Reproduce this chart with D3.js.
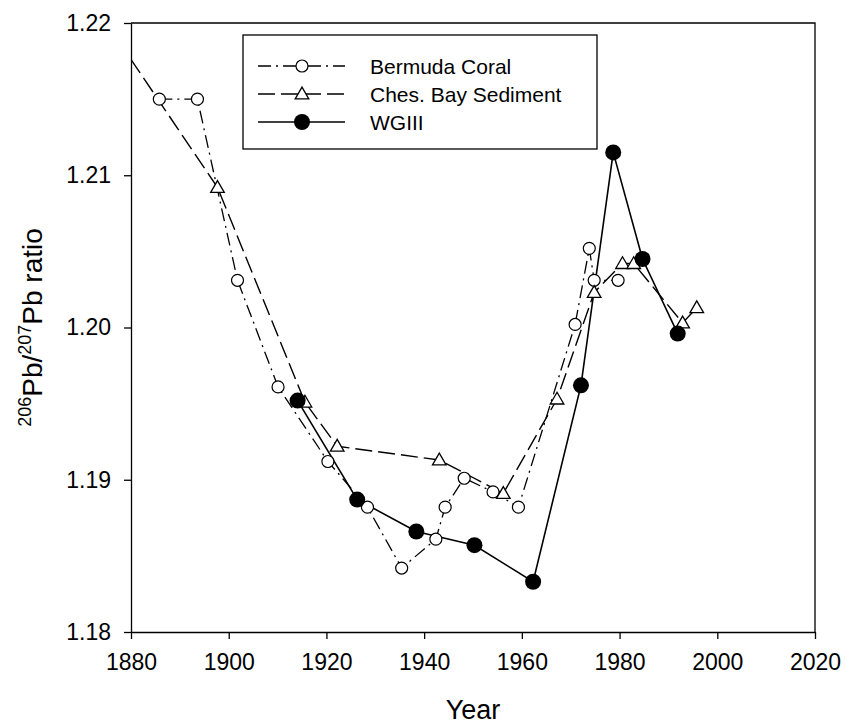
<!DOCTYPE html>
<html>
<head>
<meta charset="utf-8">
<script src="https://cdn.jsdelivr.net/npm/d3@7"></script>
<style>
  body { margin: 0; background: #fff; }
  svg { font-family: "Liberation Sans", Arial, sans-serif; }
</style>
</head>
<body>
<div id="chart"></div>
<script>
// Bermuda coral (open circles, dash-dot line)
var coralYears  = [1885.8, 1893.6, 1901.8, 1910.1, 1920.3, 1928.4, 1935.4, 1942.4, 1944.3, 1948.2, 1954.1, 1959.3, 1970.9, 1973.8, 1974.8, 1979.7];
var coralRatios = [1.2150, 1.2150, 1.2031, 1.1961, 1.1912, 1.1882, 1.1842, 1.1861, 1.1882, 1.1901, 1.1892, 1.1882, 1.2002, 1.2052, 1.2031, 1.2031];

// Chesapeake Bay sediment (open triangles, long dashes); first point lies outside the axes
var chesYears  = [1872.0, 1897.7, 1915.6, 1922.2, 1943.1, 1956.2, 1967.2, 1974.8, 1980.6, 1982.9, 1992.9, 1995.8];
var chesRatios = [1.2214, 1.2092, 1.1951, 1.1922, 1.1913, 1.1891, 1.1953, 1.2023, 1.2042, 1.2042, 1.2003, 1.2013];

// WGIII (filled circles, solid line)
var wgYears  = [1914.1, 1926.3, 1938.4, 1950.3, 1962.3, 1972.1, 1978.7, 1984.7, 1991.9];
var wgRatios = [1.1952, 1.1887, 1.1866, 1.1857, 1.1833, 1.1962, 1.2115, 1.2045, 1.1996];

var xTicks = [1880, 1900, 1920, 1940, 1960, 1980, 2000, 2020];
var yTicks = [1.18, 1.19, 1.20, 1.21, 1.22];
var seriesNames = ["Bermuda Coral", "Ches. Bay Sediment", "WGIII"];

var w = 846, h = 725;
var pLeft = 131, pRight = 815, pTop = 23, pBottom = 632;

var svg = d3.select("#chart").append("svg")
    .attr("width", w)
    .attr("height", h);

var x = d3.scaleLinear().domain([1880, 2020]).range([pLeft, pRight]);
var y = d3.scaleLinear().domain([1.18, 1.22]).range([pBottom, pTop]);

function zip(xs, ys) {
    return xs.map(function(v, i) { return { year: v, ratio: ys[i] }; });
}
var coral = zip(coralYears, coralRatios);
var ches = zip(chesYears, chesRatios);
var wg = zip(wgYears, wgRatios);

svg.append("clipPath").attr("id", "plot")
  .append("rect")
    .attr("x", pLeft).attr("y", pTop)
    .attr("width", pRight - pLeft).attr("height", pBottom - pTop);

// frame (top and right)
svg.append("path")
    .attr("d", "M" + pLeft + "," + pTop + "H" + pRight + "V" + pBottom)
    .attr("fill", "none")
    .attr("stroke", "#000")
    .attr("stroke-width", 1.3);

// axes
var xAxis = svg.append("g")
    .attr("transform", "translate(0," + pBottom + ")")
    .call(d3.axisBottom(x).tickValues(xTicks).tickFormat(d3.format("d")).tickSize(7).tickSizeOuter(0).tickPadding(15));
var yAxis = svg.append("g")
    .attr("transform", "translate(" + pLeft + ",0)")
    .call(d3.axisLeft(y).tickValues(yTicks).tickFormat(d3.format(".2f")).tickSize(7).tickSizeOuter(0).tickPadding(13));

[xAxis, yAxis].forEach(function(a) {
    a.select(".domain").attr("stroke-width", 1.3);
    a.selectAll(".tick line").attr("stroke-width", 1.3);
    a.selectAll("text")
        .attr("font-family", "Liberation Sans, Arial, sans-serif")
        .attr("font-size", 23)
        .attr("fill", "#000");
});

// axis titles
svg.append("text")
    .attr("x", (pLeft + pRight) / 2)
    .attr("y", 719)
    .attr("text-anchor", "middle")
    .attr("font-size", 27)
    .text("Year");

var yTitle = svg.append("text")
    .attr("transform", "translate(42," + ((pTop + pBottom) / 2) + ") rotate(-90)")
    .attr("text-anchor", "middle")
    .attr("font-size", 28);
yTitle.append("tspan").attr("font-size", 18).attr("dy", -11).text("206");
yTitle.append("tspan").attr("dy", 11).text("Pb/");
yTitle.append("tspan").attr("font-size", 18).attr("dy", -11).text("207");
yTitle.append("tspan").attr("dy", 11).text("Pb ratio");

var line = d3.line()
    .x(function(d) { return x(d.year); })
    .y(function(d) { return y(d.ratio); });

var styles = [
    { data: coral, dash: "13,5,2,5", width: 1.3 },
    { data: ches, dash: "17,6", width: 1.4 },
    { data: wg, dash: null, width: 1.6 }
];

var plot = svg.append("g").attr("clip-path", "url(#plot)");

styles.forEach(function(s) {
    plot.append("path")
        .datum(s.data)
        .attr("d", line)
        .attr("fill", "none")
        .attr("stroke", "#000")
        .attr("stroke-width", s.width)
        .attr("stroke-dasharray", s.dash);
});

var tri = d3.symbol().type(d3.symbolTriangle).size(80);

function drawMarkers(g, data, kind) {
    var sel = g.selectAll(null).data(data).enter();
    if (kind === "circle") {
        sel.append("circle")
            .attr("cx", function(d) { return x(d.year); })
            .attr("cy", function(d) { return y(d.ratio); })
            .attr("r", 6)
            .attr("fill", "#fff")
            .attr("stroke", "#000")
            .attr("stroke-width", 1.2);
    } else if (kind === "triangle") {
        sel.append("path")
            .attr("d", tri)
            .attr("transform", function(d) { return "translate(" + x(d.year) + "," + (y(d.ratio) + 1) + ")"; })
            .attr("fill", "#fff")
            .attr("stroke", "#000")
            .attr("stroke-width", 1.3);
    } else {
        sel.append("circle")
            .attr("cx", function(d) { return x(d.year); })
            .attr("cy", function(d) { return y(d.ratio); })
            .attr("r", 8)
            .attr("fill", "#000");
    }
}

drawMarkers(plot, coral, "circle");
drawMarkers(plot, ches, "triangle");
drawMarkers(plot, wg, "filled");

// legend
var legend = svg.append("g").attr("transform", "translate(243,35)");
legend.append("rect")
    .attr("width", 354)
    .attr("height", 114)
    .attr("fill", "#fff")
    .attr("stroke", "#000")
    .attr("stroke-width", 1.3);

var kinds = ["circle", "triangle", "filled"];
var items = legend.selectAll(".legend-item")
    .data(seriesNames)
    .enter()
    .append("g")
    .attr("class", "legend-item")
    .attr("transform", function(d, i) { return "translate(0," + (31 + i * 28) + ")"; });

items.append("line")
    .attr("x1", 15).attr("x2", 102)
    .attr("stroke", "#000")
    .attr("stroke-width", function(d, i) { return styles[i].width; })
    .attr("stroke-dasharray", function(d, i) { return styles[i].dash; });

items.each(function(d, i) {
    var g = d3.select(this);
    if (kinds[i] === "circle") {
        g.append("circle").attr("cx", 59).attr("r", 6)
            .attr("fill", "#fff").attr("stroke", "#000").attr("stroke-width", 1.2);
    } else if (kinds[i] === "triangle") {
        g.append("path").attr("d", tri).attr("transform", "translate(59,1)")
            .attr("fill", "#fff").attr("stroke", "#000").attr("stroke-width", 1.3);
    } else {
        g.append("circle").attr("cx", 59).attr("r", 8).attr("fill", "#000");
    }
});

items.append("text")
    .attr("x", 127)
    .attr("y", 8)
    .attr("font-size", 21)
    .text(function(d) { return d; });
</script>
</body>
</html>
